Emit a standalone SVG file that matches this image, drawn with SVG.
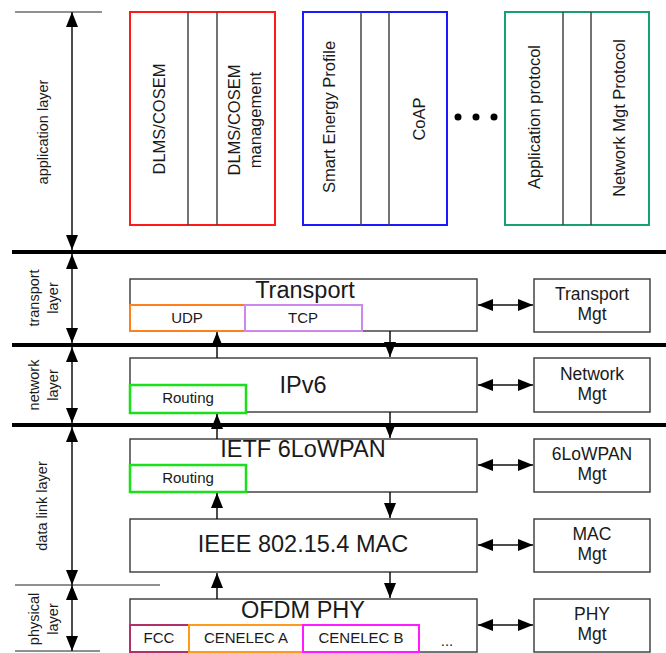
<svg xmlns="http://www.w3.org/2000/svg" width="666" height="653" viewBox="0 0 666 653">
<style>
text{font-family:"Liberation Sans",Arial,sans-serif;fill:#1a1a1a}
.box{fill:#fff;stroke:#444;stroke-width:1.5}
.div{stroke:#444;stroke-width:1.5}
.thick{stroke:#000;stroke-width:4}
.thin{stroke:#222;stroke-width:1.2}
.conn{stroke:#111;stroke-width:1.5;fill:none}
.lay{font-size:14.5px;text-anchor:middle}
.app{font-size:16.5px;text-anchor:middle}
.title{font-size:23.5px;text-anchor:middle}
.sub{font-size:15px;text-anchor:middle}
.mgt{font-size:17.5px;text-anchor:middle}
</style>
<defs>
<marker id="ah" viewBox="0 0 15 12" refX="15" refY="6" markerWidth="15" markerHeight="12" markerUnits="userSpaceOnUse" orient="auto-start-reverse"><path d="M0,0 L15,6 L0,12 z" fill="#000"/></marker>
</defs>
<rect width="666" height="653" fill="#fff"/>

<g id="layer-lines">
<line class="thin" x1="15" y1="12" x2="102" y2="12"/>
<line class="thick" x1="12" y1="252" x2="666" y2="252"/>
<line class="thick" x1="12" y1="345" x2="666" y2="345"/>
<line class="thick" x1="12" y1="425" x2="666" y2="425"/>
<line class="thin" x1="15" y1="585" x2="160" y2="585"/>
<line class="thin" x1="15" y1="651" x2="100" y2="651"/>
</g>

<g id="layer-labels">
<text class="lay" transform="translate(48,132) rotate(-90)">application layer</text>
<text class="lay" transform="translate(39,298) rotate(-90)">transport</text>
<text class="lay" transform="translate(58,298) rotate(-90)">layer</text>
<text class="lay" transform="translate(39,385) rotate(-90)">network</text>
<text class="lay" transform="translate(58,385) rotate(-90)">layer</text>
<text class="lay" transform="translate(47,506) rotate(-90)">data link layer</text>
<text class="lay" transform="translate(39,619) rotate(-90)">physical</text>
<text class="lay" transform="translate(58,619) rotate(-90)">layer</text>
</g>

<g id="app-dlms">
<rect x="130" y="12" width="145" height="213" fill="#fff" stroke="#ff1a1a" stroke-width="2"/>
<line class="div" x1="188" y1="12" x2="188" y2="225"/>
<line class="div" x1="217" y1="12" x2="217" y2="225"/>
<text class="app" transform="translate(165,119) rotate(-90)">DLMS/COSEM</text>
<text class="app" transform="translate(240,120) rotate(-90)">DLMS/COSEM</text>
<text class="app" transform="translate(261,120) rotate(-90)">management</text>
</g>

<g id="app-sep">
<rect x="303" y="12" width="144" height="213" fill="#fff" stroke="#1a1aff" stroke-width="2"/>
<line class="div" x1="361" y1="12" x2="361" y2="225"/>
<line class="div" x1="389" y1="12" x2="389" y2="225"/>
<text class="app" transform="translate(335,117) rotate(-90)">Smart Energy Profile</text>
<text class="app" transform="translate(425,119) rotate(-90)">CoAP</text>
</g>

<g id="app-dots" fill="#000">
<circle cx="458" cy="117" r="3.5"/>
<circle cx="476" cy="117" r="3.5"/>
<circle cx="494" cy="117" r="3.5"/>
</g>

<g id="app-protocol">
<rect x="505" y="12" width="144" height="213" fill="#fff" stroke="#17a070" stroke-width="2"/>
<line class="div" x1="563" y1="12" x2="563" y2="225"/>
<line class="div" x1="591" y1="12" x2="591" y2="225"/>
<text class="app" transform="translate(540,117) rotate(-90)">Application protocol</text>
<text class="app" transform="translate(625,118) rotate(-90)">Network Mgt Protocol</text>
</g>

<g id="transport">
<rect class="box" x="130" y="279" width="347" height="52"/>
<text class="title" x="305" y="298">Transport</text>
<rect x="130" y="305" width="115" height="26" fill="#fff" stroke="#ff7f1a" stroke-width="2"/>
<text class="sub" x="187" y="323">UDP</text>
<rect x="245" y="305" width="117" height="26" fill="#fff" stroke="#cc88ee" stroke-width="2"/>
<text class="sub" x="303" y="323">TCP</text>
</g>

<g id="ipv6">
<rect class="box" x="130" y="358" width="347" height="54"/>
<text class="title" x="303" y="393">IPv6</text>
<rect x="130" y="385" width="116" height="28" fill="#fff" stroke="#1adf1a" stroke-width="2.5"/>
<text class="sub" x="188" y="403">Routing</text>
</g>

<g id="sixlowpan">
<rect class="box" x="130" y="439" width="347" height="53"/>
<text class="title" x="303" y="457">IETF 6LoWPAN</text>
<rect x="130" y="465" width="116" height="27" fill="#fff" stroke="#1adf1a" stroke-width="2.5"/>
<text class="sub" x="188" y="483">Routing</text>
</g>

<g id="mac">
<rect class="box" x="130" y="519" width="347" height="53"/>
<text class="title" x="303" y="552">IEEE 802.15.4 MAC</text>
</g>

<g id="phy">
<rect class="box" x="130" y="599" width="347" height="53"/>
<text class="title" x="303" y="618">OFDM PHY</text>
<rect x="130" y="625" width="59" height="27" fill="#fff" stroke="#b0306a" stroke-width="2"/>
<text class="sub" x="159" y="643">FCC</text>
<rect x="189" y="625" width="114" height="27" fill="#fff" stroke="#ff9a1a" stroke-width="2"/>
<text class="sub" x="246" y="643">CENELEC A</text>
<rect x="303" y="625" width="116" height="27" fill="#fff" stroke="#ff1aff" stroke-width="2"/>
<text class="sub" x="361" y="643">CENELEC B</text>
<text class="sub" x="447" y="646">...</text>
</g>

<g id="transport-mgt">
<rect class="box" x="534" y="279" width="116" height="53"/>
<text class="mgt" x="592" y="300">Transport</text>
<text class="mgt" x="592" y="320">Mgt</text>
</g>
<g id="network-mgt">
<rect class="box" x="534" y="358" width="116" height="54"/>
<text class="mgt" x="592" y="380">Network</text>
<text class="mgt" x="592" y="400">Mgt</text>
</g>
<g id="sixlowpan-mgt">
<rect class="box" x="534" y="439" width="116" height="53"/>
<text class="mgt" x="592" y="460">6LoWPAN</text>
<text class="mgt" x="592" y="480">Mgt</text>
</g>
<g id="mac-mgt">
<rect class="box" x="534" y="519" width="116" height="53"/>
<text class="mgt" x="592" y="540">MAC</text>
<text class="mgt" x="592" y="560">Mgt</text>
</g>
<g id="phy-mgt">
<rect class="box" x="534" y="599" width="116" height="53"/>
<text class="mgt" x="592" y="620">PHY</text>
<text class="mgt" x="592" y="640">Mgt</text>
</g>

<g id="connectors">
<line class="conn" x1="72" y1="12" x2="72" y2="250" marker-start="url(#ah)" marker-end="url(#ah)"/>
<line class="conn" x1="72" y1="254" x2="72" y2="343" marker-start="url(#ah)" marker-end="url(#ah)"/>
<line class="conn" x1="72" y1="347" x2="72" y2="423" marker-start="url(#ah)" marker-end="url(#ah)"/>
<line class="conn" x1="72" y1="427" x2="72" y2="585" marker-start="url(#ah)" marker-end="url(#ah)"/>
<line class="conn" x1="72" y1="585" x2="72" y2="651" marker-start="url(#ah)" marker-end="url(#ah)"/>

<line class="conn" x1="217" y1="358" x2="217" y2="332" marker-end="url(#ah)"/>
<line class="conn" x1="390" y1="331" x2="390" y2="357" marker-end="url(#ah)"/>
<line class="conn" x1="217" y1="439" x2="217" y2="414" marker-end="url(#ah)"/>
<line class="conn" x1="390" y1="412" x2="390" y2="438" marker-end="url(#ah)"/>
<line class="conn" x1="217" y1="519" x2="217" y2="493" marker-end="url(#ah)"/>
<line class="conn" x1="390" y1="492" x2="390" y2="518" marker-end="url(#ah)"/>
<line class="conn" x1="217" y1="599" x2="217" y2="573" marker-end="url(#ah)"/>
<line class="conn" x1="390" y1="572" x2="390" y2="598" marker-end="url(#ah)"/>

<line class="conn" x1="478" y1="305" x2="533" y2="305" marker-start="url(#ah)" marker-end="url(#ah)"/>
<line class="conn" x1="478" y1="385" x2="533" y2="385" marker-start="url(#ah)" marker-end="url(#ah)"/>
<line class="conn" x1="478" y1="465" x2="533" y2="465" marker-start="url(#ah)" marker-end="url(#ah)"/>
<line class="conn" x1="478" y1="545" x2="533" y2="545" marker-start="url(#ah)" marker-end="url(#ah)"/>
<line class="conn" x1="478" y1="625" x2="533" y2="625" marker-start="url(#ah)" marker-end="url(#ah)"/>
</g>
</svg>
